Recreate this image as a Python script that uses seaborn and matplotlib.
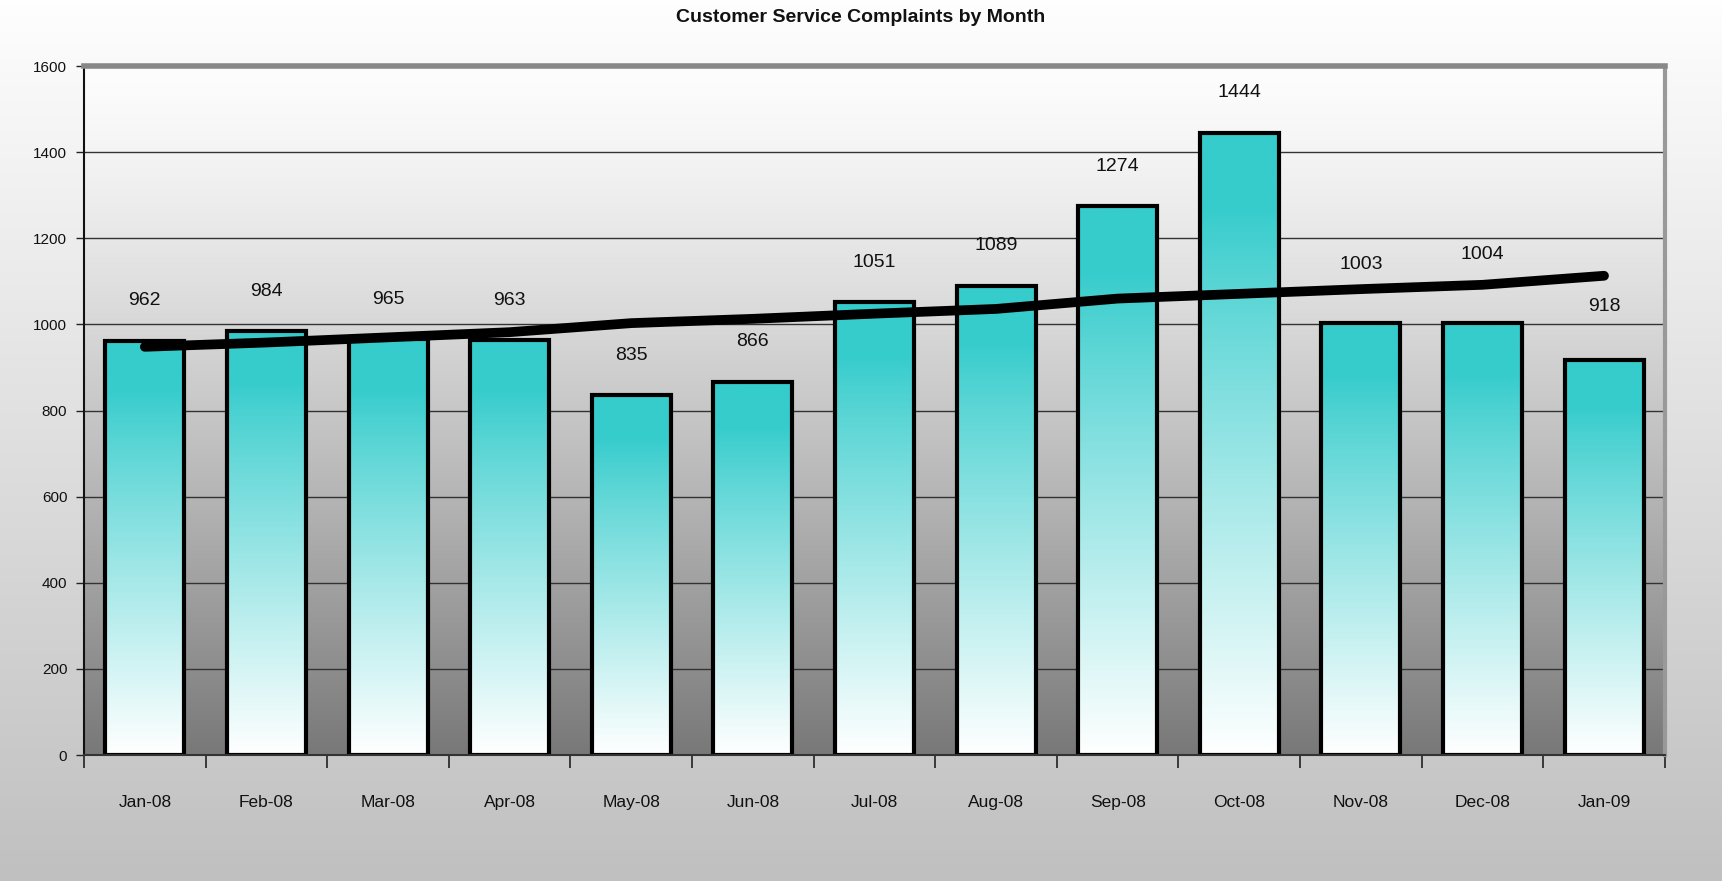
import seaborn as sns
import matplotlib.pyplot as plt
import matplotlib.ticker as mticker
import numpy as np
import pandas as pd

# Данные графика
months = ['Jan-08', 'Feb-08', 'Mar-08', 'Apr-08', 'May-08', 'Jun-08', 'Jul-08',
          'Aug-08', 'Sep-08', 'Oct-08', 'Nov-08', 'Dec-08', 'Jan-09']
complaints = [962, 984, 965, 963, 835, 866, 1051, 1089, 1274, 1444, 1003, 1004, 918]
trend = [948, 958, 970, 982, 1003, 1013, 1025, 1036, 1060, 1071, 1082, 1092, 1113]
y_ticks = [0, 200, 400, 600, 800, 1000, 1200, 1400, 1600]

df = pd.DataFrame({'month': months, 'complaints': complaints, 'trend': trend})

sns.set_theme(style="white")
font = ['Liberation Sans Narrow', 'Liberation Sans', 'DejaVu Sans']
plt.rcParams['font.family'] = font

teal = np.array([54, 204, 204]) / 255

fig = plt.figure(figsize=(17.22, 8.81), dpi=100)

# фон всей картинки: от белого к серому
bg = fig.add_axes([0, 0, 1, 1], zorder=-10)
g = np.linspace(254, 192, 256)[:, None] / 255
bg.imshow(np.dstack([g, g, g]), aspect='auto', extent=[0, 1, 0, 1])
bg.set_axis_off()

ax = fig.add_axes([0.0488, 0.143, 0.918, 0.782])
ax.patch.set_facecolor('none')

# фон области графика
t = np.linspace(0, 1, 256)
a = 253 - 133 * t ** 1.3
a = a[:, None] / 255
ax.imshow(np.dstack([a, a, a]), aspect='auto', extent=[0, 1, 0, 1],
          transform=ax.transAxes, zorder=-1)

sns.barplot(data=df, x='month', y='complaints', color=teal, width=0.65,
            edgecolor='black', linewidth=3, ax=ax, zorder=2)

# градиент внутри столбиков
s = np.linspace(0, 1, 256)
f = np.clip((s - 0.12) / 0.88, 0, 1) ** 0.9
col = teal[None, :] * (1 - f[:, None]) + np.ones(3)[None, :] * f[:, None]
bar_img = col[:, None, :]
for p in ax.patches:
    x0, w, h = p.get_x(), p.get_width(), p.get_height()
    im = ax.imshow(bar_img, aspect='auto', extent=[x0, x0 + w, 0, h], zorder=1.5)
    im.set_clip_path(p)
    p.set_facecolor('none')
    p.set_zorder(2)

sns.lineplot(x=np.arange(len(months)), y=trend, color='black', linewidth=7,
             solid_capstyle='round', ax=ax, zorder=3)

# подписи значений (последние три подняты над линией тренда)
lift = {10: 13, 11: 20, 12: 9}
for i, v in enumerate(complaints):
    ax.annotate(str(v), (i, v), xytext=(0, 29 + lift.get(i, 0)),
                textcoords='offset points', ha='center', va='center',
                fontsize=14, color='#111111', zorder=4)

ax.set_xlim(-0.5, len(months) - 0.5)
ax.set_ylim(0, 1600)
ax.set_yticks(y_ticks)
ax.set_yticklabels([str(v) for v in y_ticks], fontsize=11)
ax.set_xticks(range(len(months)))
ax.set_xticklabels(months, fontsize=12.5)
ax.xaxis.set_minor_locator(mticker.FixedLocator(np.arange(-0.5, len(months), 1)))
ax.tick_params(axis='x', which='major', length=0, pad=29, colors='#111111')
ax.tick_params(axis='x', which='minor', length=9, width=1.2, direction='out',
               color='#222222', bottom=True)
ax.tick_params(axis='y', length=6, width=1, direction='out', color='#222222',
               left=True, pad=6, labelcolor='#111111')

ax.yaxis.grid(True, color='#333333', linewidth=1)
ax.set_axisbelow(True)
for line in ax.get_ygridlines():
    line.set_zorder(0.5)

ax.spines['left'].set_color('#111111')
ax.spines['left'].set_linewidth(1.5)
ax.spines['bottom'].set_color('#333333')
ax.spines['bottom'].set_linewidth(1.5)
ax.spines['top'].set_color('#888888')
ax.spines['top'].set_linewidth(4)
ax.spines['right'].set_color('#999999')
ax.spines['right'].set_linewidth(3)

ax.set_xlabel('')
ax.set_ylabel('')

fig.text(0.5, 0.98, 'Customer Service Complaints by Month', ha='center', va='center',
         fontsize=14, fontweight='bold', color='#111111')

fig.savefig('out.png', dpi=100)
